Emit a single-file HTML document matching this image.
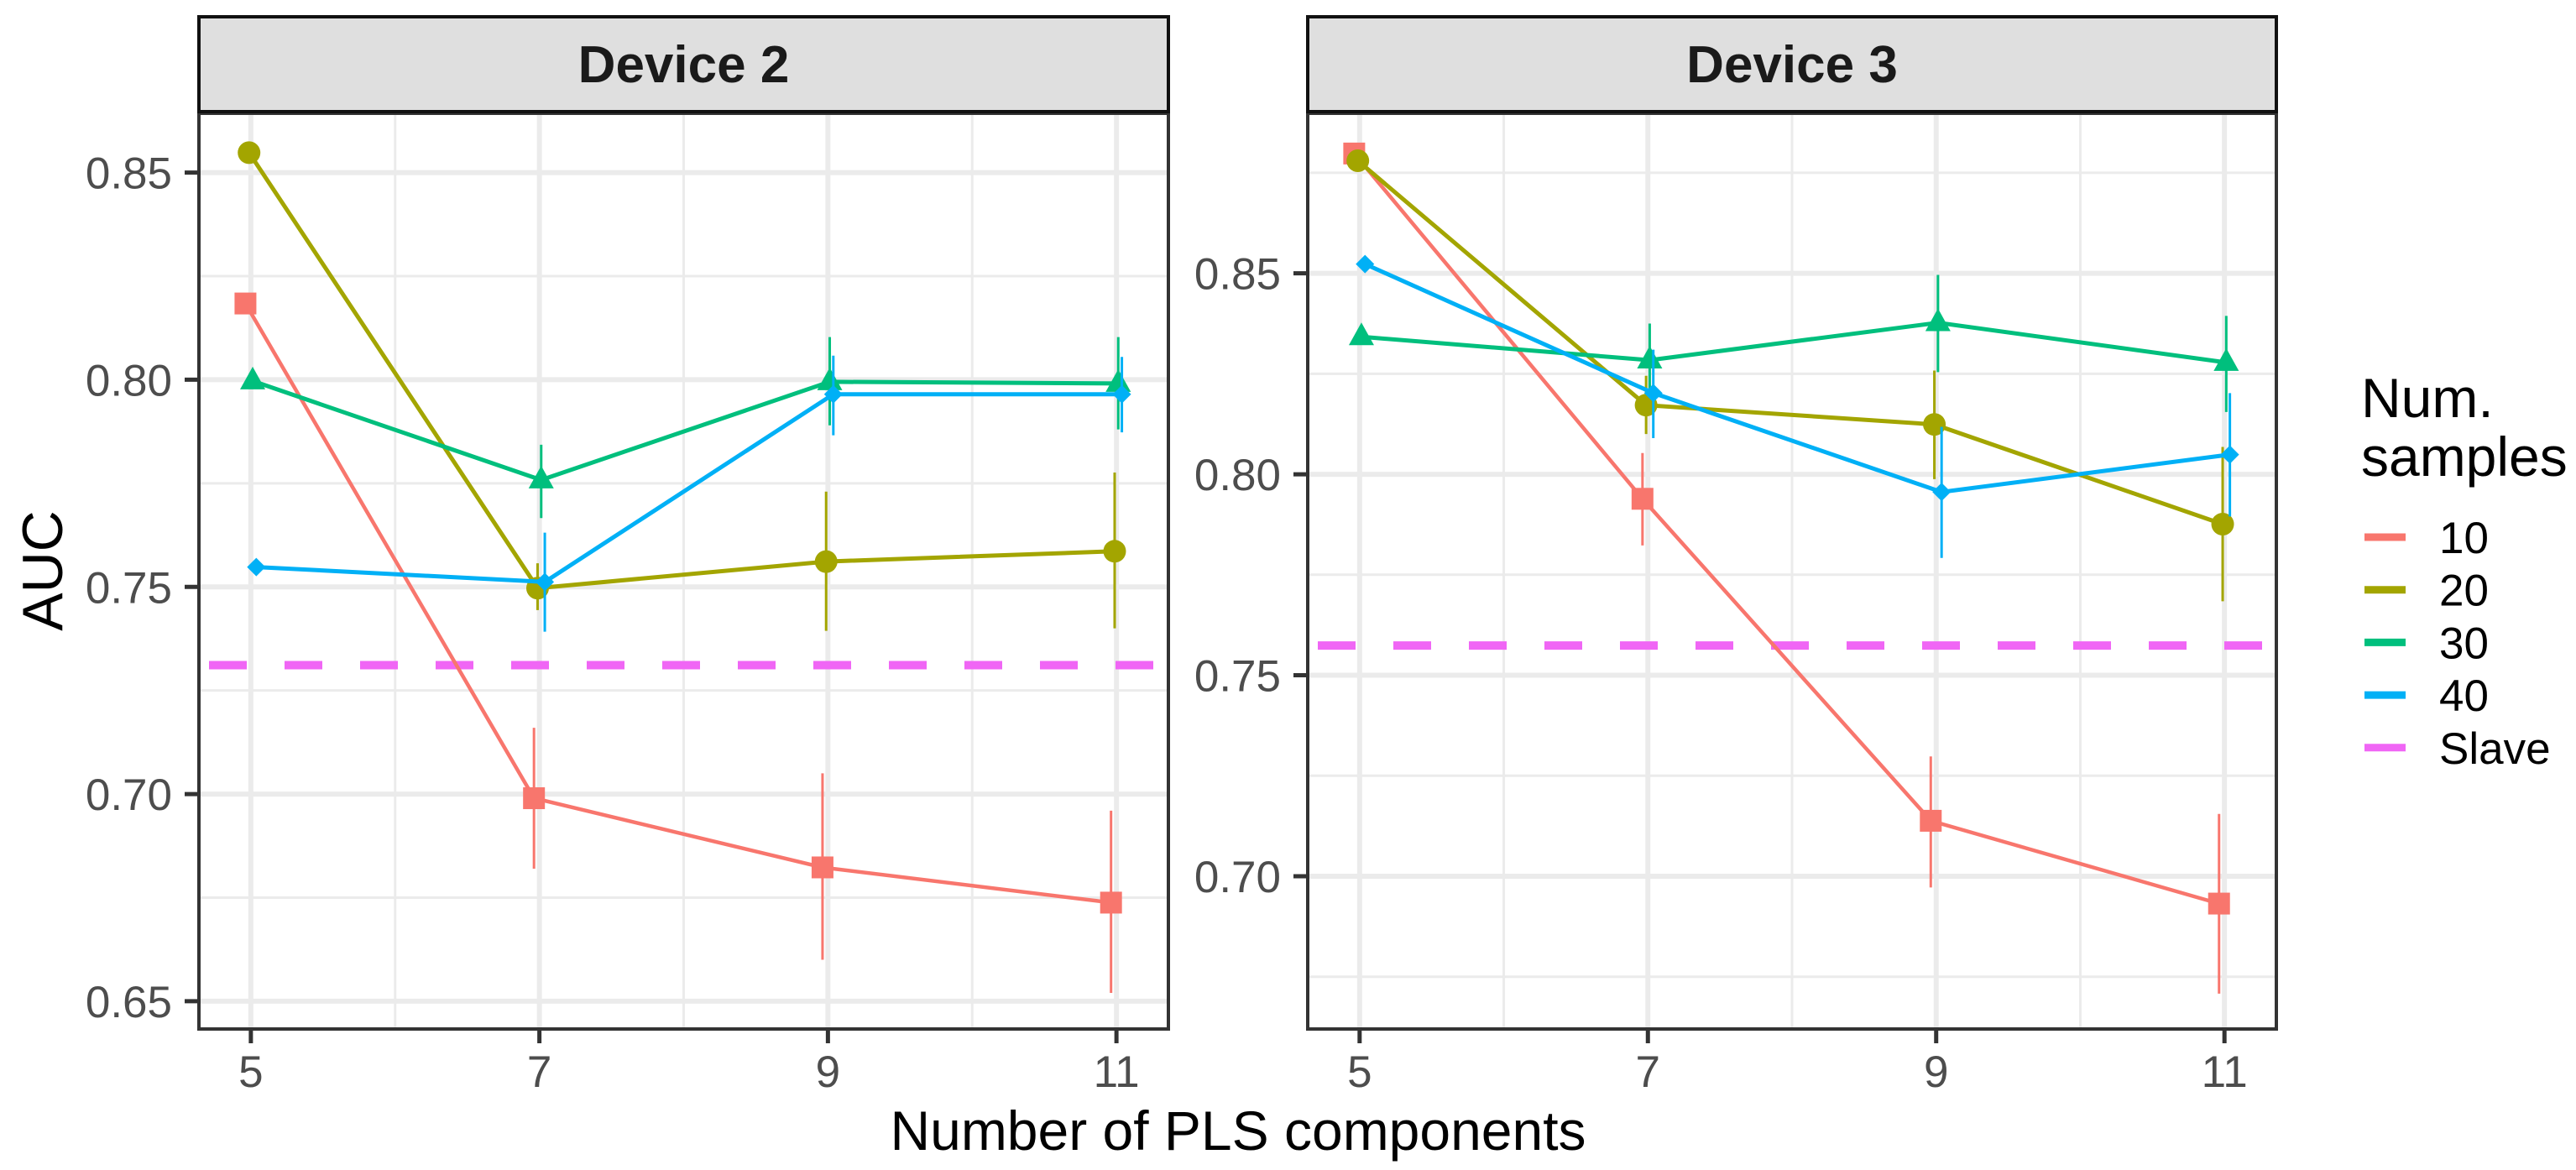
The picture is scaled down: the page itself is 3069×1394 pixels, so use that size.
<!DOCTYPE html>
<html><head><meta charset="utf-8"><style>
html,body{margin:0;padding:0;background:#fff;}
svg{display:block;font-family:"Liberation Sans",Arial,sans-serif;}
</style></head><body>
<svg id="chart" width="3069" height="1394" viewBox="0 0 3069 1394" xmlns="http://www.w3.org/2000/svg">
<rect width="3069" height="1394" fill="#fff"/>
<g id="panels"></g>
<text x="0" y="0" transform="translate(74,680) rotate(-90)" text-anchor="middle" font-size="68" fill="#000">AUC</text>
<text x="1475" y="1370" text-anchor="middle" font-size="66" fill="#000">Number of PLS components</text>
<g id="legend">
<text x="2813" y="497" font-size="66" fill="#000">Num.</text>
<text x="2813" y="567" font-size="66" fill="#000">samples</text>
</g>
</svg>
<script>
const xCats = [5, 7, 9, 11];
const seriesNames = ["10", "20", "30", "40"];
const colors = ["#F8766D", "#A3A500", "#00BF7D", "#00B0F6"];
const slaveColor = "#F066F5";
// Device 2
const d2_10 = [0.8184, 0.699, 0.6823, 0.6738];
const d2_10_lo = [0.8184, 0.682, 0.660, 0.652];
const d2_10_hi = [0.8184, 0.716, 0.705, 0.696];
const d2_20 = [0.8548, 0.7497, 0.7561, 0.7586];
const d2_20_lo = [0.8548, 0.7444, 0.7394, 0.740];
const d2_20_hi = [0.8548, 0.7557, 0.773, 0.7776];
const d2_30 = [0.7997, 0.7758, 0.7995, 0.7991];
const d2_30_lo = [0.7997, 0.7666, 0.789, 0.788];
const d2_30_hi = [0.7997, 0.7843, 0.8103, 0.8103];
const d2_40 = [0.7548, 0.7512, 0.7965, 0.7965];
const d2_40_lo = [0.7548, 0.7392, 0.7866, 0.7873];
const d2_40_hi = [0.7548, 0.7631, 0.8058, 0.8055];
const d2_slave = 0.7311;
// Device 3
const d3_10 = [0.8798, 0.7939, 0.7138, 0.6932];
const d3_10_lo = [0.8798, 0.7823, 0.6972, 0.6708];
const d3_10_hi = [0.8798, 0.8053, 0.7298, 0.7155];
const d3_20 = [0.878, 0.8172, 0.8124, 0.7876];
const d3_20_lo = [0.878, 0.810, 0.7988, 0.7684];
const d3_20_hi = [0.878, 0.8245, 0.8258, 0.8068];
const d3_30 = [0.8342, 0.8284, 0.8377, 0.8278];
const d3_30_lo = [0.8342, 0.819, 0.8254, 0.8155];
const d3_30_hi = [0.8342, 0.8375, 0.8496, 0.8394];
const d3_40 = [0.8523, 0.8202, 0.7956, 0.8049];
const d3_40_lo = [0.8523, 0.809, 0.7792, 0.7895];
const d3_40_hi = [0.8523, 0.831, 0.8118, 0.8202];
const d3_slave = 0.7574;
const d2Ticks = [0.65, 0.70, 0.75, 0.80, 0.85];
const d2Minor = [0.675, 0.725, 0.775, 0.825];
const d3Ticks = [0.70, 0.75, 0.80, 0.85];
const d3Minor = [0.675, 0.725, 0.775, 0.825, 0.875];
const xMinor = [6, 8, 10];

const NS = "http://www.w3.org/2000/svg";
function mk(tag, attrs, parent){const e=document.createElementNS(NS,tag);for(const k in attrs)e.setAttribute(k,attrs[k]);if(parent)parent.appendChild(e);return e;}
const root = document.getElementById("panels");

const panels = [
  {title:"Device 2", left:237, right:1392, ymin:0.6433, ymax:0.8643, labelX:205, ticks:d2Ticks, minor:d2Minor,
   s:[[d2_10,d2_10_lo,d2_10_hi],[d2_20,d2_20_lo,d2_20_hi],[d2_30,d2_30_lo,d2_30_hi],[d2_40,d2_40_lo,d2_40_hi]], slave:d2_slave},
  {title:"Device 3", left:1558, right:2712, ymin:0.662, ymax:0.8898, labelX:1526, ticks:d3Ticks, minor:d3Minor,
   s:[[d3_10,d3_10_lo,d3_10_hi],[d3_20,d3_20_lo,d3_20_hi],[d3_30,d3_30_lo,d3_30_hi],[d3_40,d3_40_lo,d3_40_hi]], slave:d3_slave}
];
const pTop=135, pBottom=1226, xmin=4.64, xmax=11.36;
const dodge=[-0.0375,-0.0125,0.0125,0.0375];

panels.forEach((p,pi)=>{
  const g = mk("g",{},root);
  
  
  const X = v => p.left + (v - xmin)/(xmax - xmin)*(p.right - p.left);
  const Y = v => pBottom - (v - p.ymin)/(p.ymax - p.ymin)*(pBottom - pTop);
  mk("rect",{x:p.left,y:pTop,width:p.right-p.left,height:pBottom-pTop,fill:"#fff"},g);
  p.minor.forEach(v=>{const l=mk("line",{x1:p.left,x2:p.right,y1:Y(v),y2:Y(v),stroke:"#ebebeb","stroke-width":3},g);
    });
  xMinor.forEach(v=>{const l=mk("line",{x1:X(v),x2:X(v),y1:pTop,y2:pBottom,stroke:"#ebebeb","stroke-width":3},g);
    });
  p.ticks.forEach(v=>{
    const l=mk("line",{x1:p.left,x2:p.right,y1:Y(v),y2:Y(v),stroke:"#ebebeb","stroke-width":6},g);
    
    mk("line",{x1:p.left-17,x2:p.left,y1:Y(v),y2:Y(v),stroke:"#333","stroke-width":5},g);
    const t=mk("text",{x:p.labelX,y:Y(v)+19,"text-anchor":"end","font-size":53,fill:"#4d4d4d"},g);
    t.textContent=v.toFixed(2);
    
  });
  xCats.forEach(v=>{
    const l=mk("line",{x1:X(v),x2:X(v),y1:pTop,y2:pBottom,stroke:"#ebebeb","stroke-width":6},g);
    
    mk("line",{x1:X(v),x2:X(v),y1:pBottom,y2:pBottom+17,stroke:"#333","stroke-width":5},g);
    const t=mk("text",{x:X(v),y:1295,"text-anchor":"middle","font-size":53,fill:"#4d4d4d"},g);
    t.textContent=String(v);
    
  });
  const sl=mk("line",{x1:p.left+12,x2:p.right-12,y1:Y(p.slave),y2:Y(p.slave),stroke:slaveColor,"stroke-width":10,"stroke-dasharray":"45,45"},g);
  
  p.s.forEach((ser,si)=>{
    const [vals,lo,hi]=ser; const c=colors[si];
    const sg=mk("g",{},g);
    
    
    const pts=vals.map((v,i)=>X(xCats[i]+dodge[si]).toFixed(1)+","+Y(v).toFixed(1)).join(" ");
    const pl=mk("polyline",{points:pts,fill:"none",stroke:c,"stroke-width":si===0?4.5:5},sg);
    
    vals.forEach((v,i)=>{
      const x=X(xCats[i]+dodge[si]), y=Y(v);
      if(hi[i]-lo[i]>0.0005){
        const eb=mk("line",{x1:x,x2:x,y1:Y(hi[i]),y2:Y(lo[i]),stroke:c,"stroke-width":3},sg);
        
      }
      let m;
      if(si===0) m=mk("rect",{x:x-13,y:y-13,width:26,height:26,fill:c},sg);
      else if(si===1) m=mk("circle",{cx:x,cy:y,r:13.5,fill:c},sg);
      else if(si===2) m=mk("polygon",{points:`${x},${y-17} ${x+15},${y+10} ${x-15},${y+10}`,fill:c},sg);
      else m=mk("polygon",{points:`${x},${y-11} ${x+11},${y} ${x},${y+11} ${x-11},${y}`,fill:c},sg);
      
    });
  });
  mk("rect",{x:p.left,y:pTop,width:p.right-p.left,height:pBottom-pTop,fill:"none",stroke:"#333","stroke-width":4},g);
  const st=mk("rect",{x:p.left,y:20,width:p.right-p.left,height:113,fill:"#dfdfdf",stroke:"#111","stroke-width":4},g);
  
  const tt=mk("text",{x:(p.left+p.right)/2,y:98,"text-anchor":"middle","font-size":62,"font-weight":"bold",fill:"#1a1a1a"},g);
  tt.textContent=p.title;
  
});

const lg=document.getElementById("legend");
const legLabels=["10","20","30","40","Slave"];
const legColors=[...colors, slaveColor];
legLabels.forEach((lab,i)=>{
  const y=640+i*62.7;
  const e=mk("g",{},lg);
  
  
  mk("line",{x1:2817,x2:2866,y1:y,y2:y,stroke:legColors[i],"stroke-width":9},e);
  const t=mk("text",{x:2906,y:y+19,"font-size":53,fill:"#000"},e);
  t.textContent=lab;
});
</script>
</body></html>
